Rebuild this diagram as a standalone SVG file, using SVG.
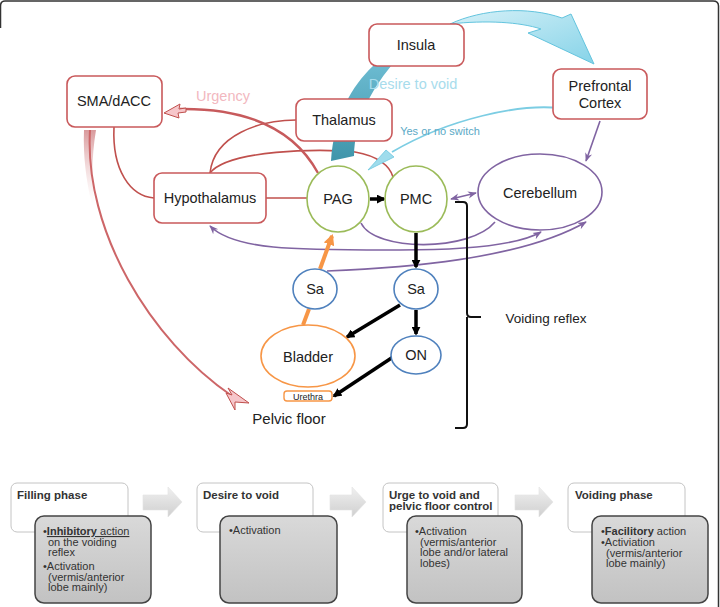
<svg xmlns="http://www.w3.org/2000/svg" width="720" height="607" viewBox="0 0 720 607">
<defs>
<style>
.box{fill:#fff;stroke:#c9595b;stroke-width:1.6}
.lbl{font-family:"Liberation Sans",Arial,sans-serif;font-size:14.5px;fill:#222;text-anchor:middle}
.green{fill:#fff;stroke:#9bbb59;stroke-width:1.6}
.blue{fill:#fff;stroke:#4f81bd;stroke-width:1.6}
.orange{fill:#fff;stroke:#f79646;stroke-width:1.6}
.purple{fill:#fff;stroke:#8064a2;stroke-width:1.6}
.red{fill:none;stroke:#c0504d;stroke-width:1.6}
.pl{fill:none;stroke:#8064a2;stroke-width:1.6}
.blk{fill:none;stroke:#000;stroke-width:3.5}
.ph{fill:#fff;stroke:#c4c4c4;stroke-width:1}
.gb{fill:url(#gg);stroke:#444;stroke-width:1.5}
.t{font-family:"Liberation Sans",Arial,sans-serif;font-size:11px;fill:#333}
.tb{font-weight:bold}
.arr{fill:url(#ga);stroke:#e2e2e2;stroke-width:0.6}
</style>
<linearGradient id="gg" x1="0" y1="0" x2="0" y2="1"><stop offset="0" stop-color="#d9d9d9"/><stop offset="1" stop-color="#c2c2c2"/></linearGradient>
<linearGradient id="ga" x1="0" y1="0" x2="0" y2="1"><stop offset="0" stop-color="#f0f0f0"/><stop offset="1" stop-color="#cfcfcf"/></linearGradient>
<linearGradient id="gteal" x1="0" y1="0" x2="0" y2="1"><stop offset="0" stop-color="#6bbad0"/><stop offset="1" stop-color="#3f95aa"/></linearGradient>
<linearGradient id="gsky" x1="0" y1="0" x2="1" y2="1"><stop offset="0" stop-color="#d6f1f8"/><stop offset="1" stop-color="#86d3e8"/></linearGradient>
<linearGradient id="gpink" x1="0" y1="0" x2="0" y2="1"><stop offset="0" stop-color="#d99a9c"/><stop offset="1" stop-color="#f3d6d7" stop-opacity="0"/></linearGradient>
<marker id="mk" viewBox="0 0 10 10" refX="8" refY="5" markerWidth="9" markerHeight="9" markerUnits="userSpaceOnUse" orient="auto"><path d="M0,0 L10,5 L0,10 z" fill="#000"/></marker>
<marker id="mo" viewBox="0 0 10 10" refX="8" refY="5" markerWidth="11" markerHeight="11" markerUnits="userSpaceOnUse" orient="auto"><path d="M0,0 L10,5 L0,10 z" fill="#f79646"/></marker>
<marker id="mp" viewBox="0 0 10 10" refX="9" refY="5" markerWidth="9" markerHeight="9" markerUnits="userSpaceOnUse" orient="auto-start-reverse"><path d="M0,1 L10,5 L0,9 L3,5 z" fill="#8064a2"/></marker>
</defs>

<rect x="0" y="0" width="720" height="607" fill="#fff"/>
<path d="M0.5,28 L0.5,6 Q0.5,1 5,1 L713,1 Q718.5,1 718.5,6 L718.5,607" fill="none" stroke="#333" stroke-width="1.5"/>

<g id="connectors">
  <!-- red links -->
  <path class="red" d="M114,127 C112,170 130,196 154,198"/>
  <path class="red" d="M266,198 L307,198"/>
  <path class="red" d="M210,173 C214,135 260,120 296,120"/>
  <path class="red" d="M210,173 C228,150 320,148 355,152 C378,156 390,166 393,177"/>
  <!-- urgency -->
  <path d="M318,173 C300,140 262,108 180,109" fill="none" stroke="#c75a5c" stroke-width="2.4"/>
  <polygon points="164,113 180,104 179,109 186,108 186,112 178,113 179,118" fill="#f6c6ca" stroke="#c0504d" stroke-width="1"/>
  <!-- to pelvic floor -->
  <path d="M84,130 L96,130 C91,160 92,185 95,205 L92,205 C86,180 83,155 84,130 Z" fill="url(#gpink)"/>
  <path d="M90,130 C84,230 150,340 232,396" fill="none" stroke="#cd6668" stroke-width="2"/>
  <polygon points="249,403 228,388 232,395 226,393 235,410 235,402" fill="#f6c6ca" stroke="#c0504d" stroke-width="1"/>
  <!-- insula to PAG band (desire to void) -->
  <path d="M373,66 C352,86 334,116 331,161 L354,156 C355,120 370,92 391,66 Z" fill="url(#gteal)"/>
  <!-- insula to prefrontal -->
  <path d="M450,24 C482,9 528,6 562,18 L571,14 L594,64 L528,33 L541,29 C520,22 486,20 450,24 Z" fill="url(#gsky)" stroke="#63c4de" stroke-width="1"/>
  <!-- yes or no switch -->
  <path d="M559,108 C520,104 450,118 392,152" fill="none" stroke="#7ccde3" stroke-width="1.8"/>
  <polygon points="368,170 386,150 394,157" fill="#9fdcec" stroke="#6cc6df" stroke-width="0.8"/>
  <!-- purple -->
  <path class="pl" d="M451,199 L476,193" marker-start="url(#mp)" marker-end="url(#mp)"/>
  <path class="pl" d="M600,121 L586,161" marker-end="url(#mp)"/>
  <path class="pl" d="M361,223 C375,252 470,252 495,222"/>
  <path class="pl" d="M210,226 C235,251 300,250 400,250 C470,250 520,244 541,232" marker-start="url(#mp)" marker-end="url(#mp)"/>
  <path class="pl" d="M327,271 C400,268 520,260 586,222" marker-end="url(#mp)"/>
  <!-- orange -->
  <path d="M303,325 L309,309" stroke="#f79646" stroke-width="4" fill="none"/>
  <path d="M320,269 L332,236" stroke="#f79646" stroke-width="4" fill="none" marker-end="url(#mo)"/>
  <!-- black -->
  <path class="blk" d="M370,199 L384,199" stroke-width="3" marker-end="url(#mk)"/>
  <path class="blk" d="M416,233 L416,267" stroke-width="4" marker-end="url(#mk)"/>
  <path class="blk" d="M400,305 L347,337" marker-end="url(#mk)"/>
  <path class="blk" d="M416,310 L416,334" marker-end="url(#mk)"/>
  <path class="blk" d="M393,357 L334,396" marker-end="url(#mk)"/>
  <!-- bracket -->
  <path d="M455,202 L463,202 Q467,202 467,206 L467,313 Q467,317 471,317 L481,317 M467,317 L467,424 Q467,428 463,428 L455,428" fill="none" stroke="#111" stroke-width="2"/>
</g>

<text class="lbl" x="223" y="101" style="fill:#f2b8c0">Urgency</text>
<text class="lbl" x="413" y="89" style="fill:#a8dcec">Desire to void</text>
<text class="lbl" x="440" y="135" style="fill:#5aa9c6;font-size:11px">Yes or no switch</text>

<g id="sma"><rect class="box" x="67" y="76" width="95" height="51" rx="8"/><text class="lbl" x="114" y="106">SMA/dACC</text></g>
<g id="insula"><rect class="box" x="369" y="24" width="95" height="42" rx="8"/><text class="lbl" x="416" y="50">Insula</text></g>
<g id="thalamus"><rect class="box" x="296" y="99" width="96" height="42" rx="8"/><text class="lbl" x="344" y="125">Thalamus</text></g>
<g id="prefrontal"><rect class="box" x="553" y="69" width="94" height="50" rx="8"/><text class="lbl" x="600" y="91">Prefrontal</text><text class="lbl" x="600" y="108">Cortex</text></g>
<g id="hypothalamus"><rect class="box" x="154" y="173" width="112" height="50" rx="8"/><text class="lbl" x="210" y="203">Hypothalamus</text></g>
<g id="pag"><ellipse class="green" cx="338" cy="199" rx="31" ry="33"/><text class="lbl" x="338" y="204">PAG</text></g>
<g id="pmc"><ellipse class="green" cx="416" cy="199" rx="31" ry="33"/><text class="lbl" x="416" y="204">PMC</text></g>
<g id="cerebellum"><ellipse class="purple" cx="540" cy="192" rx="62" ry="38"/><text class="lbl" x="540" y="198">Cerebellum</text></g>
<g id="sa1"><ellipse class="blue" cx="315" cy="289" rx="22" ry="20"/><text class="lbl" x="315" y="294">Sa</text></g>
<g id="sa2"><ellipse class="blue" cx="416" cy="289" rx="22" ry="20"/><text class="lbl" x="416" y="294">Sa</text></g>
<g id="bladder"><ellipse class="orange" cx="308" cy="356" rx="47" ry="31"/><text class="lbl" x="308" y="362">Bladder</text></g>
<g id="on"><ellipse class="blue" cx="416" cy="355" rx="25" ry="19"/><text class="lbl" x="416" y="360">ON</text></g>
<g id="urethra"><rect x="284" y="391" width="48" height="10" rx="3" fill="#fff" stroke="#f79646" stroke-width="1.4"/><text class="lbl" x="308" y="399.5" style="font-size:9px">Urethra</text></g>
<g id="pelvic"><text class="lbl" x="289" y="424" style="font-size:15px">Pelvic floor</text></g>
<g id="voiding-reflex"><text class="lbl" x="546" y="323" style="font-size:13.5px">Voiding reflex</text></g>

<!-- bottom flow -->
<g id="phase1">
  <rect class="ph" x="11" y="483" width="117" height="49" rx="6"/>
  <text class="t tb" x="17" y="499" style="font-size:11.5px">Filling phase</text>
  <rect class="gb" x="35" y="516" width="116" height="87" rx="9"/>
  <text class="t" x="43" y="535">•<tspan class="tb" text-decoration="underline">Inhibitory</tspan><tspan text-decoration="underline"> action</tspan></text>
  <text class="t" x="48" y="545.5">on the voiding</text>
  <text class="t" x="48" y="556">reflex</text>
  <text class="t" x="43" y="570">•Activation</text>
  <text class="t" x="48" y="580.5">(vermis/anterior</text>
  <text class="t" x="48" y="591">lobe mainly)</text>
</g>
<path class="arr" d="M143,495 L168,495 L168,487 L182,502 L168,517 L168,510 L143,510 Z"/>
<g id="phase2">
  <rect class="ph" x="197" y="483" width="116" height="49" rx="6"/>
  <text class="t tb" x="203" y="499" style="font-size:11.5px">Desire to void</text>
  <rect class="gb" x="220" y="516" width="117" height="87" rx="9"/>
  <text class="t" x="229" y="534">•Activation</text>
</g>
<path class="arr" d="M330,495 L352,495 L352,487 L366,502 L352,517 L352,510 L330,510 Z"/>
<g id="phase3">
  <rect class="ph" x="383" y="483" width="115" height="49" rx="6"/>
  <text class="t tb" x="389" y="499" style="font-size:11.5px">Urge to void and</text>
  <text class="t tb" x="389" y="510" style="font-size:11.5px">pelvic floor control</text>
  <rect class="gb" x="407" y="516" width="115" height="87" rx="9"/>
  <text class="t" x="415" y="535">•Activation</text>
  <text class="t" x="420" y="545.5">(vermis/anterior</text>
  <text class="t" x="420" y="556">lobe and/or lateral</text>
  <text class="t" x="420" y="566.5">lobes)</text>
</g>
<path class="arr" d="M515,495 L539,495 L539,487 L553,502 L539,517 L539,510 L515,510 Z"/>
<g id="phase4">
  <rect class="ph" x="568" y="483" width="117" height="49" rx="6"/>
  <text class="t tb" x="575" y="499" style="font-size:11.5px">Voiding phase</text>
  <rect class="gb" x="592" y="516" width="116" height="87" rx="9"/>
  <text class="t" x="601" y="535">•<tspan class="tb">Facilitory</tspan> action</text>
  <text class="t" x="601" y="546">•Activiation</text>
  <text class="t" x="606" y="556.5">(vermis/anterior</text>
  <text class="t" x="606" y="567">lobe mainly)</text>
</g>
</svg>
